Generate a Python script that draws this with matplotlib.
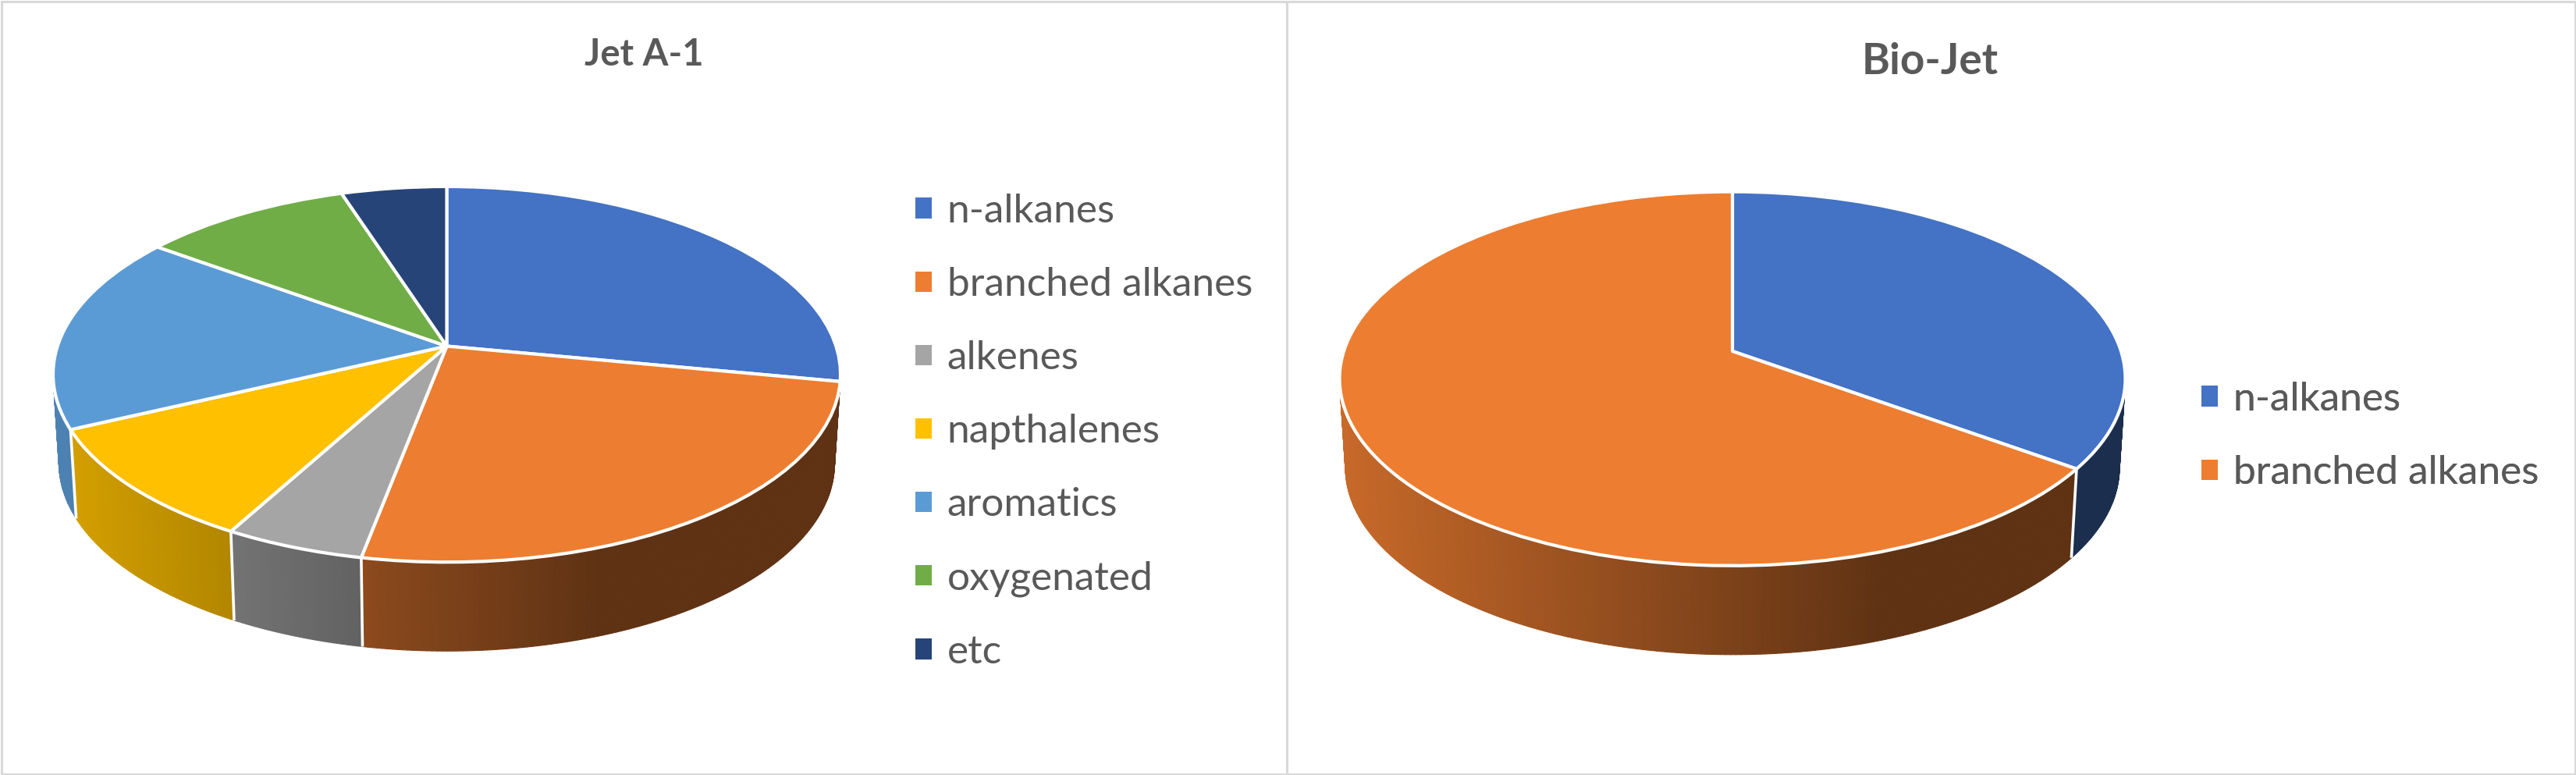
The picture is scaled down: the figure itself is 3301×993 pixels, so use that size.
import numpy as np
import matplotlib
matplotlib.use("Agg")
import matplotlib.pyplot as plt
from matplotlib.collections import PolyCollection
from matplotlib.patches import Patch, Rectangle
from matplotlib.transforms import Transform

plt.rcParams["font.family"] = ["Lato", "DejaVu Sans"]

W, H = 3301, 993

labels_a = ["n-alkanes", "branched alkanes", "alkenes", "napthalenes", "aromatics", "oxygenated", "etc"]
values_a = [28, 25, 5, 10, 17, 10, 5]
colors_a = ["#4472C4", "#ED7D31", "#A5A5A5", "#FFC000", "#5B9BD5", "#70AD47", "#264478"]

labels_b = ["n-alkanes", "branched alkanes"]
values_b = [35, 65]
colors_b = ["#4472C4", "#ED7D31"]

TEXT = "#595959"
FRAME = "#D9D9D9"


class Tilt(Transform):
    # unit disc -> tilted disc in pixels, near edge bigger than far edge
    input_dims = output_dims = 2
    has_inverse = False
    is_affine = False

    def __init__(self, cx, cy, a, b, k):
        super().__init__()
        self.cx, self.cy, self.a, self.b, self.k = cx, cy, a, b, k

    def transform_non_affine(self, values):
        values = np.asarray(values, dtype=float)
        w = 1 + self.k * values[:, 1]
        return np.column_stack([self.cx + self.a * values[:, 0] / w,
                                self.cy - self.b * values[:, 1] / w])


def draw_pie(ax, values, colors, tilt, rx, depth):
    # side wall first, the top goes over it
    edges = np.cumsum([0] + list(values)) / sum(values) * 2 * np.pi
    polys, shades = [], []
    for i, col in enumerate(colors):
        n = max(int((edges[i + 1] - edges[i]) * 90), 2)
        th = np.linspace(edges[i], edges[i + 1], n + 1)
        top = tilt.transform_non_affine(np.column_stack([np.sin(th), np.cos(th)]))
        bot = top.copy()
        bot[:, 0] = tilt.cx + (top[:, 0] - tilt.cx) * 0.985
        bot[:, 1] = top[:, 1] + depth
        rgb = np.array(matplotlib.colors.to_rgb(col))
        for j in range(n):
            polys.append([top[j], top[j + 1], bot[j + 1], bot[j]])
            t = ((top[j, 0] + top[j + 1, 0]) / 2 - tilt.cx) / rx
            shades.append(rgb * np.interp(t, [-1, 0.39], [0.84, 0.40]))
    ax.add_collection(PolyCollection(polys, facecolors=shades, edgecolors=shades, linewidths=0.8))

    # seams on the wall, none right at the silhouette
    for th in edges:
        if np.cos(th) < -0.25:
            p = tilt.transform_non_affine(np.array([[np.sin(th), np.cos(th)]]))[0]
            q = [tilt.cx + (p[0] - tilt.cx) * 0.985, p[1] + depth]
            ax.plot([p[0], q[0]], [p[1], q[1]], color="white", lw=2.6, solid_capstyle="butt")

    wedges, _ = ax.pie(values, colors=colors, startangle=90, counterclock=False,
                       wedgeprops={"edgecolor": "white", "linewidth": 3.0, "joinstyle": "round"})
    for w in wedges:
        w.set_transform(tilt + ax.transData)
        w.set_clip_on(False)


def add_legend(ax, labels, colors, x, y):
    handles = [Patch(facecolor=c, edgecolor="none") for c in colors]
    leg = ax.legend(handles, labels, loc="upper left", bbox_to_anchor=(x, y),
                    bbox_transform=ax.transData, frameon=False, fontsize=37,
                    labelcolor=TEXT, borderpad=0, borderaxespad=0,
                    handlelength=0.41, handleheight=0.41, handletextpad=0.38,
                    labelspacing=0.935)
    ax.add_artist(leg)


fig = plt.figure(figsize=(W / 100, H / 100), dpi=100)
ax = fig.add_axes([0, 0, 1, 1])

tilt_a = Tilt(572.5, 443.5, 498.8, 235.2, 0.150)
tilt_b = Tilt(2220.0, 450.0, 498.0, 234.4, 0.147)
draw_pie(ax, values_a, colors_a, tilt_a, 505, 114)
draw_pie(ax, values_b, colors_b, tilt_b, 504, 114)

ax.set_aspect("auto")
ax.set_xlim(0, W)
ax.set_ylim(H, 0)
ax.axis("off")

ax.add_patch(Rectangle((1.5, 1.5), 1647.5, H - 3, fill=False, edgecolor=FRAME, lw=2.2))
ax.add_patch(Rectangle((1649, 1.5), W - 1650.5, H - 3, fill=False, edgecolor=FRAME, lw=2.2))

ax.text(825, 70, "Jet A-1", ha="center", va="center", color=TEXT, fontsize=34, fontweight="bold")
ax.text(2473, 79, "Bio-Jet", ha="center", va="center", color=TEXT, fontsize=39.5, fontweight="bold")

add_legend(ax, labels_a, colors_a, 1173, 248)
add_legend(ax, labels_b, colors_b, 2821, 489)

fig.savefig("out.png", dpi=100)
